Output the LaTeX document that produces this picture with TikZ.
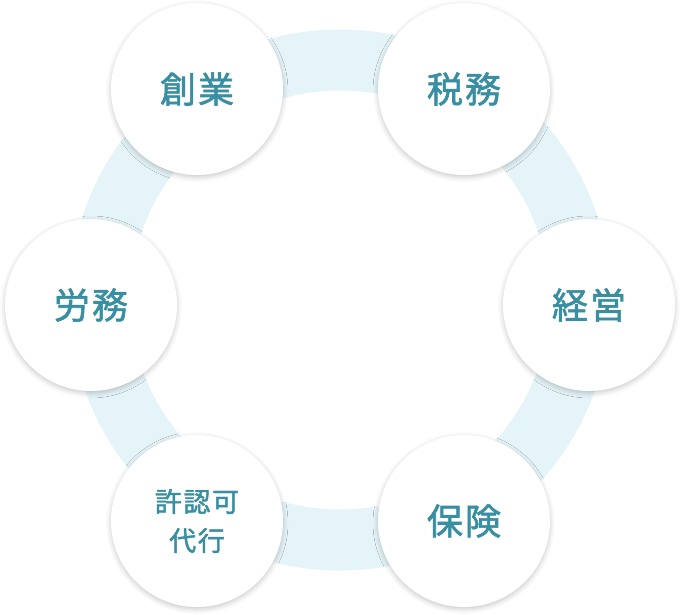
\documentclass[tikz,border=0pt]{standalone}
\usepackage{fontspec}
\newfontfamily\cjk[FakeBold=1.6,LetterSpace=6]{Noto Sans CJK JP}
\usetikzlibrary{shadows.blur}
\definecolor{ringc}{HTML}{E4F4F8}
\definecolor{textc}{HTML}{378FA1}
\tikzset{
  topic/.style={circle, fill=white, minimum size=172pt, inner sep=0pt,
    blur shadow={shadow xshift=0pt, shadow yshift=-2pt, shadow blur radius=5pt, shadow opacity=22},
    text=textc, font=\cjk\fontsize{36}{40}\selectfont, align=center},
  smalltopic/.style={topic, font=\cjk\fontsize{27}{39}\selectfont},
  ring/.style={draw=ringc, line width=61pt}
}
\begin{document}
\begin{tikzpicture}[x=1pt,y=-1pt]
\useasboundingbox (0,0) rectangle (680,614);
\coordinate (c) at (340,300);
\draw[ring] (c) circle[radius=240];
\node[topic] (sogyo) at (197,89) {創業};
\node[topic] (zeimu) at (464,89) {税務};
\node[topic] (keiei) at (589,305) {経営};
\node[topic] (hoken) at (464,521) {保険};
\node[smalltopic] (kyoninka) at (197,521) {許認可\\代行};
\node[topic] (romu) at (91,305) {労務};
\end{tikzpicture}
\end{document}
